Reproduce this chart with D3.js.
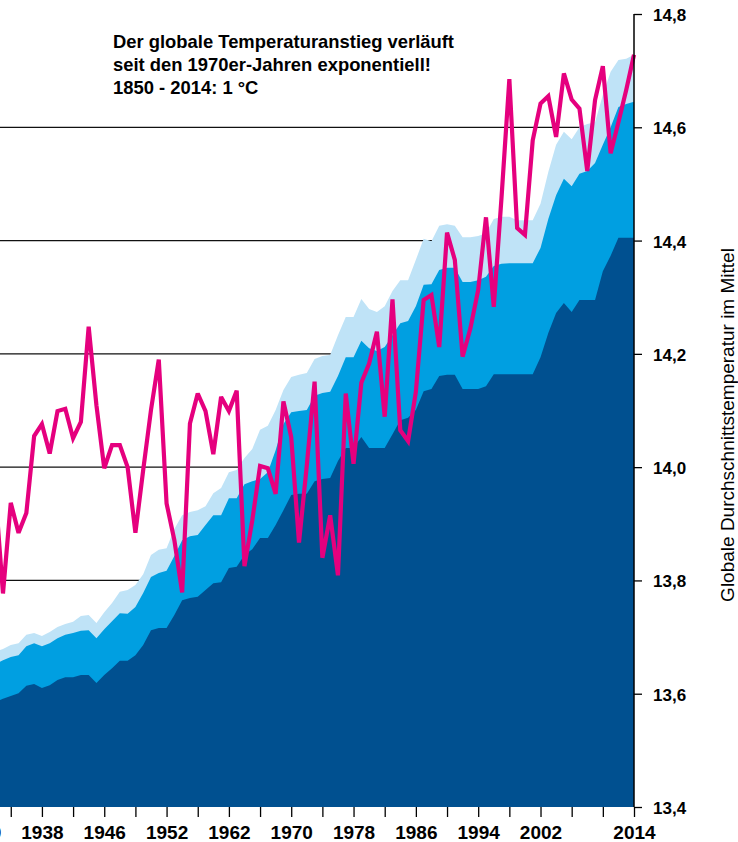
<!DOCTYPE html>
<html>
<head>
<meta charset="utf-8">
<script src="https://cdn.jsdelivr.net/npm/d3@7"></script>
<style>
  html, body { margin: 0; padding: 0; background: #fff; }
  svg { display: block; }
  text { font-family: "Liberation Sans", Arial, Helvetica, sans-serif; fill: #000; }
</style>
</head>
<body>
<svg id="chart" width="738" height="842"></svg>
<script>
const years = [1932,1933,1934,1935,1936,1937,1938,1939,1940,1941,1942,1943,1944,1945,1946,1947,1948,1949,
  1950,1951,1952,1953,1954,1955,1956,1957,1958,1959,1960,1961,1962,1963,1964,1965,1966,1967,1968,1969,
  1970,1971,1972,1973,1974,1975,1976,1977,1978,1979,1980,1981,1982,1983,1984,1985,1986,1987,1988,1989,
  1990,1991,1992,1993,1994,1995,1996,1997,1998,1999,2000,2001,2002,2003,2004,2005,2006,2007,2008,2009,
  2010,2011,2012,2013,2014];

// annual global mean temperature (magenta line)
const annualTemp = [13.96,13.777,13.937,13.884,13.919,14.055,14.076,14.024,14.099,14.103,14.051,14.080,14.248,14.109,13.998,14.039,14.039,14.000,
  13.884,13.995,14.101,14.190,13.936,13.871,13.779,14.077,14.130,14.099,14.023,14.124,14.099,14.135,13.825,13.906,14.002,13.998,13.953,14.116,
  14.053,13.867,14.003,14.151,13.840,13.915,13.809,14.130,14.006,14.149,14.183,14.239,14.089,14.296,14.065,14.046,14.133,14.295,14.304,14.212,
  14.414,14.366,14.195,14.245,14.313,14.441,14.283,14.477,14.685,14.422,14.410,14.577,14.642,14.655,14.583,14.695,14.649,14.633,14.523,14.648,
  14.708,14.554,14.609,14.666,14.728];

// upper edge of the dark blue band
const darkBand = [13.585,13.591,13.596,13.601,13.614,13.617,13.610,13.615,13.624,13.629,13.629,13.633,13.633,13.619,13.633,13.645,13.658,13.658,
  13.668,13.686,13.712,13.716,13.716,13.739,13.765,13.769,13.771,13.783,13.795,13.797,13.822,13.824,13.845,13.855,13.875,13.875,13.898,13.924,
  13.951,13.953,13.953,13.975,13.979,13.981,14.011,14.034,14.034,14.053,14.034,14.034,14.034,14.058,14.083,14.087,14.101,14.134,14.138,14.161,
  14.163,14.163,14.138,14.138,14.138,14.143,14.164,14.164,14.164,14.164,14.164,14.164,14.194,14.237,14.272,14.290,14.274,14.295,14.295,14.295,
  14.346,14.373,14.405,14.405,14.405];

// upper edge of the medium blue band
const midBand = [13.652,13.659,13.665,13.668,13.684,13.689,13.684,13.689,13.698,13.704,13.707,13.711,13.712,13.698,13.714,13.728,13.742,13.741,
  13.753,13.778,13.806,13.813,13.817,13.843,13.871,13.878,13.880,13.898,13.915,13.915,13.945,13.945,13.970,13.975,13.979,13.991,14.030,14.076,
  14.097,14.099,14.101,14.126,14.131,14.133,14.161,14.194,14.194,14.223,14.210,14.205,14.212,14.233,14.254,14.258,14.284,14.322,14.323,14.348,
  14.352,14.352,14.327,14.327,14.330,14.336,14.355,14.359,14.360,14.360,14.360,14.360,14.387,14.438,14.480,14.509,14.496,14.518,14.523,14.537,
  14.569,14.600,14.636,14.641,14.645];

// upper edge of the light blue band
const lightBand = [13.674,13.679,13.686,13.689,13.704,13.707,13.702,13.709,13.718,13.723,13.727,13.737,13.739,13.725,13.744,13.760,13.780,13.783,
  13.792,13.811,13.845,13.854,13.857,13.891,13.915,13.921,13.924,13.931,13.954,13.963,13.991,13.995,14.016,14.032,14.066,14.073,14.101,14.136,
  14.159,14.163,14.166,14.191,14.196,14.198,14.233,14.265,14.265,14.297,14.279,14.274,14.284,14.311,14.330,14.330,14.366,14.403,14.399,14.426,
  14.429,14.426,14.406,14.406,14.408,14.413,14.438,14.442,14.442,14.436,14.436,14.436,14.465,14.521,14.569,14.592,14.579,14.600,14.606,14.609,
  14.657,14.698,14.719,14.721,14.728];

const xTicks = [1930,1934,1938,1942,1946,1950,1954,1958,1962,1966,1970,1974,1978,1982,1986,1990,1994,1998,2002,2006,2010,2014];
const xTickLabels = ["1930","","1938","","1946","","1952","","1962","","1970","","1978","","1986","","1994","","2002","","","2014"];
const yTicks = [13.4,13.6,13.8,14.0,14.2,14.4,14.6,14.8];
const yTickLabels = ["13,4","13,6","13,8","14,0","14,2","14,4","14,6","14,8"];
const gridValues = [13.6,13.8,14.0,14.2,14.4,14.6];
const titleLines = ["Der globale Temperaturanstieg verläuft","seit den 1970er-Jahren exponentiell!","1850 - 2014: 1 °C"];
const yAxisTitle = "Globale Durchschnittstemperatur im Mittel";

const svg = d3.select("#chart");
const x = d3.scaleLinear().domain([1930, 2014]).range([-20.4, 634]);
const y = d3.scaleLinear().domain([13.4, 14.8]).range([807, 14]);

svg.append("defs").append("clipPath").attr("id", "plotclip")
  .append("rect").attr("x", 0).attr("y", 0).attr("width", 738).attr("height", 807);

const plot = svg.append("g").attr("clip-path", "url(#plotclip)");

// gridlines (behind the areas)
plot.selectAll("line.grid").data(gridValues).enter().append("line")
  .attr("x1", 0).attr("x2", x(2014))
  .attr("y1", d => y(d)).attr("y2", d => y(d))
  .attr("stroke", "#111").attr("stroke-width", 1.2);

const rows = years.map((yr, i) => ({yr, t: annualTemp[i], d: darkBand[i], m: midBand[i], l: lightBand[i]}));

const area = key => d3.area().x(d => x(d.yr)).y0(y(13.4)).y1(d => y(d[key]));
plot.append("path").datum(rows).attr("d", area("l")).attr("fill", "#BFE3F7");
plot.append("path").datum(rows).attr("d", area("m")).attr("fill", "#009FE1");
plot.append("path").datum(rows).attr("d", area("d")).attr("fill", "#005090");

plot.append("path").datum(rows)
  .attr("d", d3.line().x(d => x(d.yr)).y(d => y(d.t)))
  .attr("fill", "none").attr("stroke", "#E5007E").attr("stroke-width", 4.2)
  .attr("stroke-linejoin", "miter").attr("stroke-miterlimit", 3);

// right y axis
const yAxis = d3.axisRight(y).tickValues(yTicks).tickSize(8).tickPadding(11)
  .tickFormat((d, i) => yTickLabels[i]);
const ya = svg.append("g").attr("transform", `translate(${x(2014)},0)`).call(yAxis);
ya.select(".domain").attr("stroke", "#000").attr("stroke-width", 1.5).attr("d", `M0,${y(14.8)}V${y(13.4)}`);
ya.selectAll(".tick line").attr("stroke", "#000").attr("stroke-width", 1.3);
ya.selectAll(".tick text").attr("font-size", 17).attr("font-weight", "bold")
  .attr("font-family", "'Liberation Sans', Arial, sans-serif").attr("fill", "#000").attr("dy", "0.38em");

// bottom x axis
const xAxis = d3.axisBottom(x).tickValues(xTicks).tickSize(10).tickPadding(9)
  .tickFormat((d, i) => xTickLabels[i]);
const xa = svg.append("g").attr("transform", `translate(0,${y(13.4)})`).call(xAxis);
xa.select(".domain").remove();
xa.selectAll(".tick line").attr("stroke", "#000").attr("stroke-width", 1.3);
xa.selectAll(".tick text").attr("font-size", 19).attr("font-weight", "bold")
  .attr("font-family", "'Liberation Sans', Arial, sans-serif").attr("fill", "#000");

// axis title
svg.append("text")
  .attr("transform", "translate(734,425) rotate(-90)")
  .attr("text-anchor", "middle")
  .attr("font-size", 19)
  .text(yAxisTitle);

// headline
svg.selectAll("text.title").data(titleLines).enter().append("text")
  .attr("class", "title")
  .attr("x", 113).attr("y", (d, i) => 48 + i * 23)
  .attr("font-size", 18.4).attr("font-weight", "bold")
  .text(d => d);
</script>
</body>
</html>
